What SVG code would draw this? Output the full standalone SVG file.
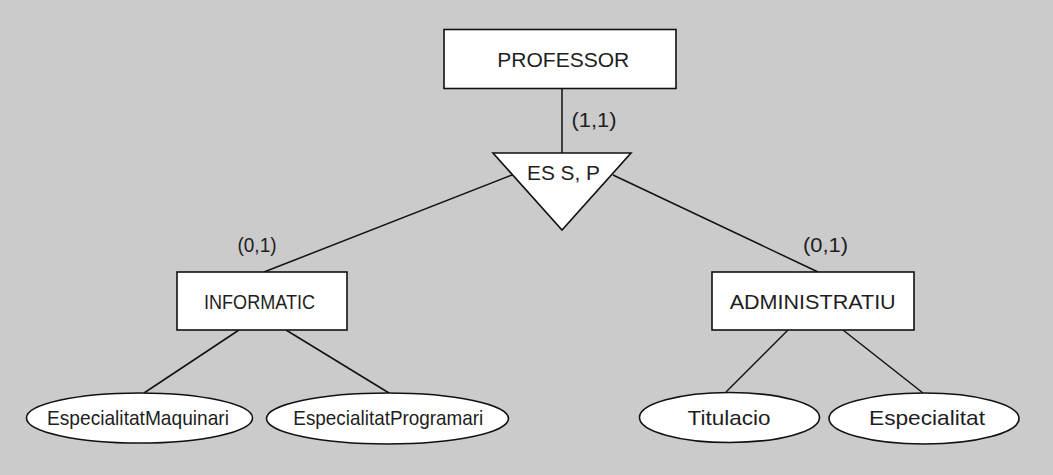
<svg xmlns="http://www.w3.org/2000/svg" width="1053" height="475" viewBox="0 0 1053 475">
<style>
.shape{fill:#ffffff;stroke:#111111;stroke-width:1.6}
.conn line{stroke:#111111;stroke-width:1.5}
text{font-family:"Liberation Sans",Arial,sans-serif;font-size:21px;fill:#1e1e1e;text-anchor:middle}
</style>
<rect x="0" y="0" width="1053" height="475" fill="#cbcbcb"/>
<g id="connectors" class="conn">
<line x1="562" y1="88" x2="562" y2="153"/>
<line x1="512" y1="175" x2="264" y2="272"/>
<line x1="613" y1="175" x2="818" y2="272"/>
<line x1="239" y1="330" x2="144" y2="393"/>
<line x1="286" y1="330" x2="389" y2="393"/>
<line x1="788" y1="330" x2="726" y2="392"/>
<line x1="843" y1="330" x2="923" y2="393"/>
</g>
<g id="labels">
<text x="594" y="127" textLength="45" lengthAdjust="spacingAndGlyphs">(1,1)</text>
<text x="257" y="252" textLength="39" lengthAdjust="spacingAndGlyphs">(0,1)</text>
<text x="825.5" y="252" textLength="45" lengthAdjust="spacingAndGlyphs">(0,1)</text>
</g>
<g id="professor">
<rect class="shape" x="444" y="29.5" width="232" height="59"/>
<text x="563.3" y="67" textLength="132" lengthAdjust="spacingAndGlyphs">PROFESSOR</text>
</g>
<g id="es">
<polygon class="shape" points="493,153 631,153 562,230"/>
<text x="563.5" y="180" textLength="73" lengthAdjust="spacingAndGlyphs">ES S, P</text>
</g>
<g id="informatic">
<rect class="shape" x="177" y="272" width="170" height="58"/>
<text x="259.5" y="308.5" textLength="111" lengthAdjust="spacingAndGlyphs">INFORMATIC</text>
</g>
<g id="administratiu">
<rect class="shape" x="712" y="272" width="202" height="58"/>
<text x="812.7" y="308.5" textLength="166" lengthAdjust="spacingAndGlyphs">ADMINISTRATIU</text>
</g>
<g id="especialitatMaquinari">
<ellipse class="shape" cx="139.5" cy="418" rx="113" ry="25"/>
<text x="138" y="425" textLength="182" lengthAdjust="spacingAndGlyphs">EspecialitatMaquinari</text>
</g>
<g id="especialitatProgramari">
<ellipse class="shape" cx="387.5" cy="418.5" rx="121" ry="25.5"/>
<text x="388.3" y="425" textLength="190" lengthAdjust="spacingAndGlyphs">EspecialitatProgramari</text>
</g>
<g id="titulacio">
<ellipse class="shape" cx="729.5" cy="417.5" rx="90" ry="25"/>
<text x="729" y="425" textLength="83" lengthAdjust="spacingAndGlyphs">Titulacio</text>
</g>
<g id="especialitat">
<ellipse class="shape" cx="924" cy="418.5" rx="95" ry="25.5"/>
<text x="927" y="425" textLength="116" lengthAdjust="spacingAndGlyphs">Especialitat</text>
</g>
</svg>
